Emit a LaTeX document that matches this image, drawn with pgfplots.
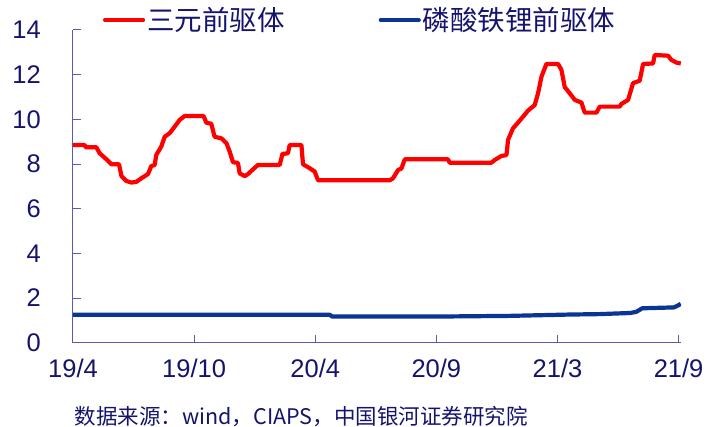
\documentclass[border=0pt]{standalone}
\usepackage{fontspec}
\setmainfont{Liberation Sans}
\newfontfamily\cjk{Noto Sans CJK SC}
\usepackage{pgfplots}
\pgfplotsset{compat=1.18}
\definecolor{redline}{RGB}{255,0,0}
\definecolor{blueline}{RGB}{10,53,146}
\definecolor{axisc}{RGB}{90,90,176}
\definecolor{txt}{RGB}{20,20,110}

\begin{document}
\begin{tikzpicture}
\useasboundingbox (-73pt,-84.3pt) rectangle (637pt,342.7pt);
\begin{axis}[
    at={(0pt,0pt)}, anchor=south west,
    scale only axis, width=608pt, height=312.7pt,
    xmin=0, xmax=5.02, ymin=0, ymax=14,
    axis x line*=bottom, axis y line*=left,
    axis line style={axisc, line width=1pt},
    xtick={0,1,2,3,4,5},
    xticklabels={19/4,19/10,20/4,20/9,21/3,21/9},
    ytick={0,2,4,6,8,10,12,14},
    tick align=inside, major tick length=8pt,
    tick style={axisc, line width=1pt},
    /pgf/number format/assume math mode=true,
    ticklabel style={font=\fontsize{25.5}{25.5}\selectfont, text=txt, inner sep=0pt},
    yticklabel style={anchor=east, xshift=-32pt},
    xticklabel style={anchor=north, yshift=-16pt},
    legend columns=2,
    legend style={draw=none, fill=none, inner sep=0pt, anchor=west, at={(0.049,1.032)},
        font=\cjk\fontsize{27.5}{27.5}\selectfont, text=txt,
        nodes={inner sep=2pt},
        /tikz/every even column/.append style={column sep=92pt}},
    legend image code/.code={\draw[#1, line cap=round] (0pt,0pt) -- (38pt,0pt);},
]
% 三元前驱体
\addplot[redline, line width=4.2pt, line join=round] coordinates {
(0,8.85)(0.097,8.85)(0.105,8.75)(0.193,8.75)(0.220,8.48)(0.276,8.21)(0.317,7.99)(0.380,7.99)
(0.400,7.46)(0.441,7.24)(0.482,7.17)(0.523,7.20)(0.564,7.36)(0.619,7.55)(0.647,7.91)(0.674,7.95)
(0.688,8.41)(0.729,8.78)(0.757,9.22)(0.798,9.38)(0.839,9.67)(0.880,9.97)(0.922,10.15)(1.078,10.15)
(1.101,9.85)(1.142,9.80)(1.169,9.22)(1.225,9.15)(1.267,8.93)(1.294,8.55)(1.321,8.08)(1.362,8.05)
(1.376,7.58)(1.418,7.46)(1.445,7.55)(1.486,7.76)(1.528,7.96)(1.707,7.96)(1.729,8.45)(1.775,8.48)
(1.789,8.85)(1.886,8.85)(1.899,7.99)(1.955,7.81)(1.996,7.66)(2.023,7.27)(2.615,7.27)
(2.642,7.36)(2.684,7.73)(2.712,7.80)(2.739,8.21)(3.096,8.21)(3.110,8.06)(3.455,8.06)
(3.482,8.18)(3.537,8.36)(3.579,8.40)(3.592,9.08)(3.633,9.60)(3.674,9.85)(3.716,10.12)(3.757,10.39)
(3.812,10.64)(3.840,11.17)(3.868,11.91)(3.909,12.48)(4.005,12.48)(4.033,12.21)(4.060,11.44)
(4.101,11.17)(4.143,10.87)(4.198,10.75)(4.225,10.30)(4.322,10.30)(4.349,10.57)(4.514,10.57)
(4.528,10.69)(4.583,10.87)(4.624,11.62)(4.679,11.73)(4.707,12.48)(4.789,12.50)(4.803,12.88)
(4.913,12.85)(4.941,12.66)(4.982,12.54)(5.018,12.50)
};
\addlegendentry{三元前驱体}
% 磷酸铁锂前驱体
\addplot[blueline, line width=4.2pt, line join=round] coordinates {
(0,1.25)(2.12,1.25)(2.14,1.17)(3.0,1.17)(3.6,1.20)(4.1,1.26)(4.35,1.28)(4.6,1.33)
(4.65,1.38)(4.70,1.54)(4.96,1.58)(4.99,1.65)(5.018,1.74)
};
\addlegendentry{磷酸铁锂前驱体}
\end{axis}
\node[anchor=west, inner sep=0pt, text=txt, font=\cjk\fontsize{21.5}{21.5}\selectfont] at (1.5pt,-74pt)
  {数据来源：wind，CIAPS，中国银河证券研究院};
\end{tikzpicture}
\end{document}
